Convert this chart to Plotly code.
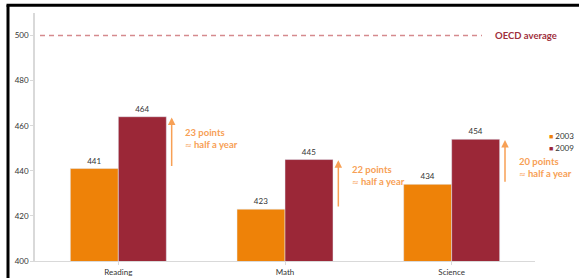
import plotly.graph_objects as go

subjects = ["Reading", "Math", "Science"]
scores_2003 = [441, 423, 434]
scores_2009 = [464, 445, 454]
oecd_average = 500
gain_points = ["23 points", "22 points", "20 points"]
gain_note = "half a year"
gain_text_y = [454.4, 438, 441.3]
y_ticks = [400, 420, 440, 460, 480, 500]
series_names = ["2003", "2009"]

C2003 = "#EE8208"
C2009 = "#9B2737"
ARROW = "#F7A055"
FONT = "Lato, 'Open Sans', sans-serif"

fig = go.Figure()
fig.add_bar(name="2003", x=subjects, y=scores_2003, marker_color=C2003,
            text=[str(v) for v in scores_2003], textposition="outside",
            textfont=dict(size=8, color="#333333"), cliponaxis=False, showlegend=False)
fig.add_bar(name="2009", x=subjects, y=scores_2009, marker_color=C2009,
            text=[str(v) for v in scores_2009], textposition="outside",
            textfont=dict(size=8, color="#333333"), cliponaxis=False, showlegend=False)
# legend entries with small square keys
for name, col, leg in zip(series_names, [C2003, C2009], ["legend", "legend2"]):
    fig.add_scatter(name=f"<span style='color:{col};font-size:7px'>■</span> {name}", x=[None], y=[None],
                    mode="markers", marker=dict(symbol="square", size=1, color="rgba(0,0,0,0)"), legend=leg)

annotations = []
for i, s in enumerate(subjects):
    annotations.append(dict(x=i + 0.32, y=scores_2009[i] - 0.3, ax=i + 0.32, ay=scores_2003[i] + 0.5,
                            xref="x", yref="y", axref="x", ayref="y", text="", showarrow=True,
                            arrowhead=2, arrowsize=1, arrowwidth=1.5, arrowcolor=ARROW))
    label = (f"<b>{gain_points[i]}</b><br><span style='font-family:DejaVu Sans;font-size:8px'>≈</span>"
             f"<b> {gain_note}</b>")
    annotations.append(dict(x=i + 0.39, y=gain_text_y[i], xref="x", yref="y", text=label,
                            showarrow=False, xanchor="left", yanchor="middle", align="left",
                            font=dict(size=9.5, color=ARROW, family=FONT)))
annotations.append(dict(x=0.916, y=oecd_average, xref="paper", yref="y", text="<b>OECD average</b>",
                        showarrow=False, xanchor="left", yanchor="middle",
                        font=dict(size=9.5, color="#A0303C", family=FONT)))

shapes = [
    dict(type="line", xref="paper", yref="y", x0=0.01, x1=0.894, y0=oecd_average, y1=oecd_average,
         line=dict(color="#D58A8E", width=1.5, dash="5px,4px")),
    dict(type="line", xref="paper", yref="paper", x0=-0.054, x1=-0.054, y0=-0.1, y1=1.031,
         line=dict(color="black", width=3)),
    dict(type="line", xref="paper", yref="paper", x0=-0.057, x1=1.1, y0=1.031, y1=1.031,
         line=dict(color="black", width=3)),
]

leg_common = dict(xref="container", yref="container", xanchor="left", yanchor="middle",
                  font=dict(size=8), itemwidth=30, bgcolor="rgba(0,0,0,0)", borderwidth=0)
fig.update_layout(
    width=579, height=278,
    margin=dict(l=35, r=44, t=13, b=17, autoexpand=False),
    paper_bgcolor="white", plot_bgcolor="white",
    barmode="group", bargap=0.424, bargroupgap=0,
    font=dict(family=FONT, size=8, color="#333333"),
    showlegend=True,
    legend=dict(x=(549 - 40) / 579, y=1 - 136 / 278, **leg_common),
    legend2=dict(x=(549 - 40) / 579, y=1 - 148 / 278, **leg_common),
    annotations=annotations,
    shapes=shapes,
)
fig.update_xaxes(showline=True, linecolor="#D9D9D9", linewidth=1, ticks="outside", tickcolor="#D9D9D9",
                 ticklen=3, showgrid=False, tickfont=dict(size=8), range=[-0.5, 2.5])
fig.update_yaxes(range=[400, 510], tickvals=y_ticks, showline=True, linecolor="#D9D9D9", linewidth=1.5,
                 ticks="outside", tickcolor="#D9D9D9", ticklen=3, showgrid=False, zeroline=False,
                 tickfont=dict(size=8))

fig.write_html("out.html", config={"displayModeBar": False},
               post_script="document.body.style.margin='0';")
